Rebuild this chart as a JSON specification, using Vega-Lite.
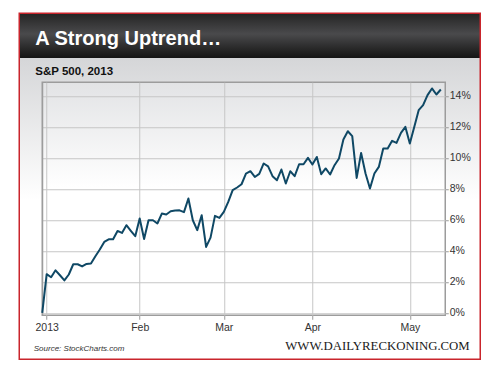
{
  "$schema": "https://vega.github.io/schema/vega-lite/v6.json",
  "background": "#ffffff",
  "padding": {"left": 18.25, "top": 12.25, "right": 0, "bottom": 0},
  "autosize": {"type": "pad"},
  "columns": 2,
  "align": "none",
  "spacing": {"row": -296, "column": -462},
  "config": {
    "font": "Liberation Sans",
    "axis": {"labelFont": "Liberation Sans", "labelFontSize": 10.5, "labelColor": "#333333", "gridColor": "#c6c6c6", "gridWidth": 1, "tickColor": "#9a9a9a"}
  },
  "concat": [
    {
      "width": 461,
      "height": 346,
      "data": {"values": []},
      "mark": "point",
      "view": {
        "stroke": "#c9252c",
        "strokeWidth": 1.5,
        "fill": {"gradient": "linear", "x1": 0, "y1": 0, "x2": 0, "y2": 1, "stops": [
          {"offset": 0, "color": "#242424"},
          {"offset": 0.06, "color": "#4a4a4c"},
          {"offset": 0.1, "color": "#2a2a2a"},
          {"offset": 0.13, "color": "#141414"},
          {"offset": 0.1301, "color": "#d5d6d8"},
          {"offset": 0.54, "color": "#ffffff"},
          {"offset": 1, "color": "#ffffff"}
        ]}
      },
      "title": {
        "text": "A Strong Uptrend…",
        "anchor": "start",
        "frame": "group",
        "orient": "top",
        "offset": -36,
        "dx": 16,
        "font": "Liberation Sans",
        "fontSize": 20,
        "fontWeight": "bold",
        "color": "#ffffff"
      }
    },
    {
      "width": 1,
      "height": 1,
      "data": {"values": []},
      "mark": "point",
      "view": {"stroke": null, "fill": null}
    },
    {
      "width": 1,
      "height": 1,
      "data": {"values": []},
      "mark": "point",
      "view": {"stroke": null, "fill": null}
    },
    {
      "width": 403,
      "height": 233,
      "data": {"values": [
        {"i":0,"v":0},{"i":1,"v":2.5},{"i":2,"v":2.3},{"i":3,"v":2.75},{"i":4,"v":2.43},{"i":5,"v":2.1},{"i":6,"v":2.48},{"i":7,"v":3.14},{"i":8,"v":3.14},{"i":9,"v":3.0},
        {"i":10,"v":3.16},{"i":11,"v":3.19},{"i":12,"v":3.66},{"i":13,"v":4.09},{"i":14,"v":4.58},{"i":15,"v":4.75},{"i":16,"v":4.75},{"i":17,"v":5.29},{"i":18,"v":5.16},{"i":19,"v":5.66},
        {"i":20,"v":5.3},{"i":21,"v":4.95},{"i":22,"v":6.09},{"i":23,"v":4.77},{"i":24,"v":5.98},{"i":25,"v":5.98},{"i":26,"v":5.77},{"i":27,"v":6.41},{"i":28,"v":6.35},{"i":29,"v":6.56},
        {"i":30,"v":6.6},{"i":31,"v":6.62},{"i":32,"v":6.5},{"i":33,"v":7.38},{"i":34,"v":5.98},{"i":35,"v":5.34},{"i":36,"v":6.3},{"i":37,"v":4.26},{"i":38,"v":4.86},{"i":39,"v":6.26},
        {"i":40,"v":6.13},{"i":41,"v":6.52},{"i":42,"v":7.16},{"i":43,"v":7.92},{"i":44,"v":8.09},{"i":45,"v":8.3},{"i":46,"v":8.99},{"i":47,"v":9.14},{"i":48,"v":8.77},{"i":49,"v":8.97},
        {"i":50,"v":9.64},{"i":51,"v":9.45},{"i":52,"v":8.82},{"i":53,"v":8.56},{"i":54,"v":9.25},{"i":55,"v":8.35},{"i":56,"v":9.14},{"i":57,"v":8.82},{"i":58,"v":9.59},{"i":59,"v":9.59},
        {"i":60,"v":10.0},{"i":61,"v":9.57},{"i":62,"v":10.06},{"i":63,"v":8.95},{"i":64,"v":9.32},{"i":65,"v":8.93},{"i":66,"v":9.53},{"i":67,"v":9.96},{"i":68,"v":11.19},{"i":69,"v":11.72},
        {"i":70,"v":11.4},{"i":71,"v":8.71},{"i":72,"v":10.32},{"i":73,"v":8.99},{"i":74,"v":8.03},{"i":75,"v":8.99},{"i":76,"v":9.42},{"i":77,"v":10.6},{"i":78,"v":10.6},{"i":79,"v":11.1},
        {"i":80,"v":10.97},{"i":81,"v":11.61},{"i":82,"v":12.0},{"i":83,"v":10.93},{"i":84,"v":12.0},{"i":85,"v":13.08},{"i":86,"v":13.4},{"i":87,"v":14.05},{"i":88,"v":14.48},{"i":89,"v":14.09},
        {"i":90,"v":14.41}
      ]},
      "view": {
        "stroke": "#9c9c9c",
        "strokeWidth": 1.5,
        "fill": {"gradient": "linear", "x1": 0, "y1": 0, "x2": 0, "y2": 1, "stops": [
          {"offset": 0, "color": "#e2e3e5"},
          {"offset": 0.45, "color": "#ffffff"},
          {"offset": 1, "color": "#ffffff"}
        ]}
      },
      "title": {
        "text": "S&P 500, 2013",
        "anchor": "start",
        "frame": "group",
        "orient": "top",
        "offset": 5,
        "dx": -7,
        "font": "Liberation Sans",
        "fontSize": 11.5,
        "fontWeight": "bold",
        "color": "#111111"
      },
      "layer": [
        {
          "mark": {"type": "line", "color": "#0f4865", "strokeWidth": 2, "strokeJoin": "round"},
          "encoding": {
            "x": {
              "field": "i", "type": "quantitative",
              "scale": {"domain": [0, 91], "nice": false, "zero": false},
              "axis": {
                "values": [1, 22, 41, 61, 83],
                "labelExpr": "datum.value == 1 ? '2013' : datum.value == 22 ? 'Feb' : datum.value == 41 ? 'Mar' : datum.value == 61 ? 'Apr' : 'May'",
                "grid": true, "domain": false, "ticks": true, "tickSize": 4, "labelPadding": 3,
                "labelFlush": false,
                "title": "Source: StockCharts.com",
                "titleFont": "Liberation Sans",
                "titleFontStyle": "italic", "titleFontWeight": "normal", "titleFontSize": 8, "titleColor": "#333333",
                "titleAnchor": "start", "titleAlign": "left", "titleBaseline": "alphabetic", "titleX": -9, "titleY": 35.5
              }
            },
            "y": {
              "field": "v", "type": "quantitative",
              "scale": {"domain": [-0.15, 14.88], "nice": false, "zero": false},
              "axis": {
                "orient": "right",
                "values": [0, 2, 4, 6, 8, 10, 12, 14],
                "labelExpr": "datum.value + '%'",
                "grid": true, "domain": false, "tickSize": 3, "labelPadding": 1,
                "title": "WWW.DAILYRECKONING.COM",
                "titleFont": "Liberation Serif", "titleFontSize": 12.8, "titleFontWeight": "normal", "titleColor": "#1a1a1a",
                "titleAngle": 0, "titleAlign": "right", "titleBaseline": "alphabetic", "titleX": 24, "titleY": 267
              }
            }
          }
        },
        {
          "mark": {"type": "line", "opacity": 0},
          "encoding": {
            "x": {"field": "i", "type": "quantitative"},
            "y": {
              "field": "v", "type": "quantitative",
              "axis": {"orient": "left", "labels": false, "ticks": false, "grid": false, "domain": true, "domainColor": "#9c9c9c", "title": null, "minExtent": 22, "maxExtent": 22}
            }
          }
        }
      ],
      "resolve": {"axis": {"y": "independent"}}
    }
  ]
}
